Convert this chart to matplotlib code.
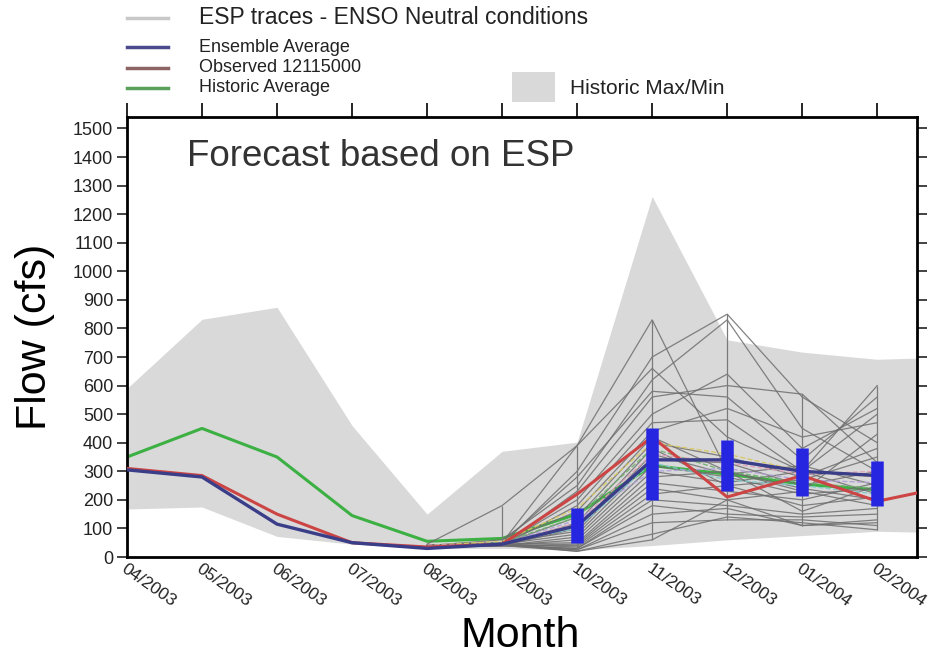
import numpy as np
import matplotlib
matplotlib.use('Agg')
from matplotlib import pyplot as plt
from matplotlib.lines import Line2D
from matplotlib.patches import Rectangle

matplotlib.rcParams['font.family'] = ['Liberation Sans', 'DejaVu Sans']

# months on the axis (index 0 = 04/2003), last one only partly visible
month_labels = ['04/2003', '05/2003', '06/2003', '07/2003', '08/2003', '09/2003',
                '10/2003', '11/2003', '12/2003', '01/2004', '02/2004']

# historic max/min band, 04/2003 .. 03/2004
hist_max = [590, 832, 874, 460, 150, 370, 402, 1262, 760, 717, 692, 700]
hist_min = [168, 175, 72, 45, 30, 30, 25, 40, 60, 75, 90, 85]

# historic average, 04/2003 .. 02/2004
hist_avg = [350, 450, 350, 145, 55, 65, 150, 320, 290, 255, 235]

# observed 12115000, 04/2003 .. 03/2004
observed = [310, 285, 150, 50, 35, 45, 220, 420, 210, 285, 195, 250]

# ensemble average, 04/2003 .. 02/2004
ens_avg = [305, 280, 115, 50, 30, 45, 110, 340, 340, 300, 285]

# ESP traces, months 08/2003 .. 02/2004
trace_months = [4, 5, 6, 7, 8, 9, 10]
esp_traces = [
    [40, 50, 390, 830, 300, 160, 250],
    [35, 45, 300, 700, 850, 560, 400],
    [40, 60, 250, 620, 830, 450, 300],
    [45, 180, 390, 660, 420, 300, 600],
    [40, 50, 280, 580, 560, 340, 560],
    [35, 40, 230, 560, 600, 570, 330],
    [40, 45, 200, 500, 640, 380, 520],
    [35, 40, 180, 470, 480, 300, 500],
    [40, 50, 160, 440, 520, 420, 470],
    [35, 45, 140, 420, 300, 230, 430],
    [40, 40, 120, 400, 350, 280, 380],
    [35, 40, 100, 380, 250, 270, 350],
    [40, 50, 90, 360, 290, 320, 250],
    [35, 45, 80, 340, 330, 250, 300],
    [40, 40, 70, 320, 280, 220, 240],
    [35, 40, 60, 300, 260, 300, 220],
    [40, 45, 50, 280, 300, 240, 200],
    [35, 40, 45, 260, 230, 200, 260],
    [40, 40, 40, 240, 200, 230, 180],
    [35, 45, 35, 220, 250, 180, 210],
    [40, 40, 30, 200, 180, 150, 170],
    [35, 40, 30, 180, 150, 140, 150],
    [40, 45, 25, 150, 170, 110, 130],
    [35, 40, 25, 120, 130, 130, 110],
    [40, 40, 20, 80, 140, 120, 95],
    [35, 45, 20, 60, 200, 110, 120],
]
# a few coloured traces (faint, dashed)
esp_color_traces = [
    [40, 55, 170, 400, 360, 300, 280],
    [35, 50, 140, 380, 300, 260, 240],
    [40, 45, 120, 360, 330, 290, 300],
    [35, 50, 100, 330, 270, 250, 220],
    [40, 45, 130, 300, 310, 270, 260],
]
esp_colors = ['#d8c860', '#70b070', '#e0a0b8', '#80c8c8', '#b0a0d8']

# blue bars (ensemble spread), 10/2003 .. 02/2004
bar_months = [6, 7, 8, 9, 10]
bar_lo = [50, 200, 230, 215, 180]
bar_hi = [170, 450, 410, 380, 335]

W, H = 932, 659
fig = plt.figure(figsize=(W / 100, H / 100), dpi=100)
ax = fig.add_axes([127 / W, 1 - 557 / H, 790 / W, 440 / H])

x_all = np.arange(len(hist_max))
ax.fill_between(x_all, hist_min, hist_max, color='#d9d9d9', lw=0, zorder=1)

ax.plot(np.arange(len(hist_avg)), hist_avg, color='#3cb043', lw=2.2, zorder=2)

tm = np.array(trace_months)
for tr in esp_traces:
    ax.plot(tm, tr, color='#6e6e6e', lw=0.9, alpha=0.85, zorder=3)
for tr, c in zip(esp_color_traces, esp_colors):
    ax.plot(tm, tr, color=c, lw=1.0, ls='--', alpha=0.9, zorder=3)

all_tr = np.array(esp_traces + esp_color_traces)
ax.vlines(tm, all_tr.min(axis=0), all_tr.max(axis=0), color='#7a7a7a', lw=0.9, zorder=3)

ax.plot(np.arange(len(observed)), observed, color='#cc4444', lw=2.2, zorder=4)
ax.plot(np.arange(len(ens_avg)), ens_avg, color='#3a3d88', lw=2.4, zorder=5)
ax.vlines(bar_months, bar_lo, bar_hi, color='#2626e0', lw=9, zorder=6)

ax.text(0.8, 1370, 'Forecast based on ESP', fontsize=26.5, color='#333333', va='baseline')

ax.set_xlim(0, 10.53)
ax.set_ylim(0, 1540)
ax.set_yticks(np.arange(0, 1501, 100))
ax.set_xticks(np.arange(len(month_labels)))
ax.set_xticklabels(month_labels, rotation=-35, ha='left', va='top',
                   rotation_mode='anchor', fontsize=12.5, color='#222222')
ax.tick_params(axis='x', which='both', bottom=True, top=True, length=0, pad=3)
ax.tick_params(axis='y', which='both', left=True, right=True, direction='out',
               length=7, width=1.2, labelsize=13, pad=3, colors='#222222')
for spine in ax.spines.values():
    spine.set_linewidth(2)
# outward month ticks on the top spine
top = ax.secondary_xaxis('top')
top.set_xticks(np.arange(len(month_labels)))
top.set_xticklabels([])
top.tick_params(direction='out', length=10, width=1.2)
top.spines['top'].set_visible(False)

ax.set_ylabel('Flow (cfs)', fontsize=31, labelpad=13)
fig.text(520 / W, 1 - 636 / H, 'Month', fontsize=31, ha='center', va='center')

# legend drawn in figure pixels
def fy(p):
    return 1 - p / H

legend_rows = [('ESP traces - ENSO Neutral conditions', '#c8c8c8', 18, 16.5),
               ('Ensemble Average', '#4a4a8c', 47, 13),
               ('Observed 12115000', '#8c6464', 67.5, 13),
               ('Historic Average', '#5aa05a', 88, 13)]
for label, col, yp, fs in legend_rows:
    fig.add_artist(Line2D([127 / W, 168 / W], [fy(yp), fy(yp)], color=col, lw=2.5))
    fig.text(199 / W, fy(yp), label, fontsize=fs, va='center', color='#222222')
fig.add_artist(Rectangle((512 / W, fy(102)), 43 / W, 30 / H, color='#d9d9d9', lw=0))
fig.text(570 / W, fy(88), 'Historic Max/Min', fontsize=15, va='center', color='#222222')

fig.savefig('out.png', dpi=100)
